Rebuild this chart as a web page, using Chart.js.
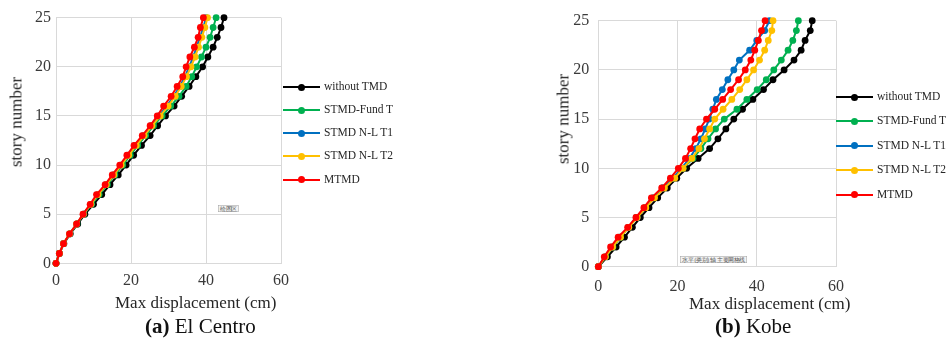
<!DOCTYPE html>
<html>
<head>
<meta charset="utf-8">
<script src="https://cdn.jsdelivr.net/npm/chart.js@4.4.0/dist/chart.umd.min.js"></script>
<style>
  body { margin:0; width:949px; height:341px; background:#fff; position:relative; overflow:hidden;
         font-family:"Liberation Serif","Times New Roman",serif; color:#262626; }
  canvas { position:absolute; top:0; }
  .txt { position:absolute; white-space:nowrap; line-height:1; }
  .xtitle { font-size:17px; }
  .caption { font-size:21px; color:#111; }
  .ytitle { position:absolute; white-space:nowrap; line-height:1; font-size:17px;
            transform:translate(-50%,-50%) rotate(-90deg); }
  .legend { position:absolute; font-size:11.5px; }
  .legend .item { position:absolute; left:0; height:0; white-space:nowrap; }
  .legend .ln { position:absolute; left:0; top:-1px; width:37px; height:2px; }
  .legend .dot { position:absolute; left:15px; top:-3.5px; width:7px; height:7px; border-radius:50%; }
  .legend .lb { position:absolute; left:41px; top:-7px; line-height:13px; }
  .tip { position:absolute; border:1px solid #a0a0a0; background:#f3f3f3; color:#555;
         font-size:11px; line-height:12px; padding:0 3px; white-space:nowrap;
         transform:scale(0.5); transform-origin:0 0; }
</style>
</head>
<body>
<canvas id="chartA" width="297" height="341" style="left:0px"></canvas>
<canvas id="chartB" width="314" height="341" style="left:540px"></canvas>

<div class="ytitle" style="left:16px; top:122px">story number</div>
<div class="txt xtitle" style="left:115px; top:294px">Max displacement (cm)</div>
<div class="txt caption" style="left:145px; top:316px"><b>(a)</b> El Centro</div>
<div class="tip" style="left:218px; top:205px">绘图区</div>
<div class="legend" id="legendA" style="left:283px; top:87px"></div>

<div class="ytitle" style="left:563px; top:119px">story number</div>
<div class="txt xtitle" style="left:689px; top:295px">Max displacement (cm)</div>
<div class="txt caption" style="left:715px; top:316px"><b>(b)</b> Kobe</div>
<div class="tip" style="left:680px; top:256px">水平 (类别) 轴 主要网格线</div>
<div class="legend" id="legendB" style="left:836px; top:97px"></div>

<script>
// story levels (y axis)
const stories = [0, 1, 2, 3, 4, 5, 6, 7, 8, 9, 10, 11, 12, 13, 14, 15, 16, 17, 18, 19, 20, 21, 22, 23, 24, 25];

const seriesNames = ['without TMD', 'STMD-Fund T', 'STMD N-L T1', 'STMD N-L T2', 'MTMD'];
const seriesColors = ['#000000', '#00b050', '#0070c0', '#ffc000', '#ff0000'];

// (a) El Centro - max displacement (cm) per story
const elCentroWithout = [0, 0.9, 2.1, 3.8, 5.8, 7.7, 10.0, 12.2, 14.4, 16.6, 18.7, 20.7, 22.8, 25.1, 27.1, 29.2, 31.5, 33.5, 35.5, 37.3, 39.1, 40.5, 41.9, 43.0, 44.0, 44.8];
const elCentroFund = [0, 0.9, 2.0, 3.7, 5.6, 7.4, 9.5, 11.5, 13.7, 15.7, 17.8, 19.8, 21.8, 23.9, 26.0, 28.3, 30.6, 32.8, 34.7, 36.2, 37.5, 38.8, 40.0, 41.1, 41.9, 42.7];
const elCentroT1 = [0, 0.9, 2.0, 3.6, 5.5, 7.3, 9.3, 11.1, 13.3, 15.3, 17.3, 19.3, 21.2, 23.3, 25.4, 27.5, 29.5, 31.4, 33.0, 34.4, 35.5, 36.6, 37.5, 38.4, 39.3, 40.0];
const elCentroT2 = [0, 0.9, 2.0, 3.6, 5.5, 7.3, 9.3, 11.2, 13.4, 15.4, 17.4, 19.4, 21.4, 23.5, 25.6, 27.8, 29.9, 31.8, 33.4, 34.8, 36.0, 37.1, 38.0, 38.9, 39.7, 40.4];
const elCentroMTMD = [0, 0.9, 2.0, 3.6, 5.5, 7.2, 9.1, 10.8, 13.1, 15.0, 17.0, 18.9, 20.8, 23.0, 25.1, 27.0, 28.7, 30.7, 32.3, 33.8, 34.7, 35.7, 36.9, 37.9, 38.5, 39.3];

// (b) Kobe - max displacement (cm) per story
const kobeWithout = [0, 2.3, 4.5, 6.6, 8.6, 10.6, 12.8, 15.0, 17.4, 19.8, 22.3, 25.2, 28.1, 30.2, 32.2, 34.2, 36.4, 39.0, 41.7, 44.1, 46.9, 49.4, 51.2, 52.2, 53.5, 54.0];
const kobeFund = [0, 1.8, 3.7, 5.6, 7.6, 9.6, 11.7, 13.8, 16.2, 18.8, 21.4, 23.9, 25.9, 27.7, 29.6, 31.8, 35.0, 37.5, 40.1, 42.4, 44.3, 46.2, 47.9, 49.1, 50.0, 50.5];
const kobeT1 = [0, 1.7, 3.5, 5.4, 7.6, 9.8, 11.9, 13.9, 16.3, 18.8, 21.0, 23.0, 24.6, 25.9, 27.0, 28.0, 28.9, 29.8, 31.3, 32.7, 34.2, 35.6, 38.2, 40.0, 42.0, 43.2];
const kobeT2 = [0, 1.8, 3.6, 5.6, 7.7, 9.8, 12.0, 14.2, 16.7, 19.3, 21.4, 23.6, 25.4, 26.8, 28.1, 29.4, 31.5, 33.7, 35.7, 37.5, 39.2, 40.7, 42.0, 42.9, 43.8, 44.1];
const kobeMTMD = [0, 1.5, 3.1, 5.0, 7.4, 9.5, 11.5, 13.4, 16.0, 18.2, 20.2, 22.0, 23.3, 24.4, 25.6, 27.3, 29.4, 31.4, 33.4, 35.4, 37.1, 38.5, 39.5, 40.4, 41.2, 42.1];

const xTickValues = [0, 20, 40, 60];
const yTickValues = [0, 5, 10, 15, 20, 25];

const gridColor = '#d9d9d9';
const tickColor = '#3a3a3a';

function buildDatasets(seriesList) {
    return seriesList.map(function(values, i) {
        return {
            label: seriesNames[i],
            data: values.map((v, k) => ({x: v, y: stories[k]})),
            borderColor: seriesColors[i],
            backgroundColor: seriesColors[i],
            pointBackgroundColor: seriesColors[i],
            pointBorderWidth: 0,
            pointRadius: 3.4,
            borderWidth: 2,
            tension: 0,
            clip: false,
            order: seriesNames.length - i   // last series drawn on top, like Excel
        };
    });
}

function makeChart(id, seriesList, pad, xPad, yPad) {
    const ctx = document.getElementById(id).getContext('2d');
    return new Chart(ctx, {
        type: 'line',
        data: { datasets: buildDatasets(seriesList) },
        options: {
            responsive: false,
            animation: false,
            devicePixelRatio: 1,
            layout: { padding: pad },
            plugins: { legend: { display: false }, tooltip: { enabled: false } },
            scales: {
                x: {
                    type: 'linear',
                    min: xTickValues[0],
                    max: xTickValues[xTickValues.length - 1],
                    afterBuildTicks: s => { s.ticks = xTickValues.map(v => ({value: v})); },
                    afterFit: s => { s.height = 30; },
                    grid: { color: gridColor, lineWidth: 1, drawTicks: false },
                    border: { color: gridColor },
                    ticks: { padding: xPad, color: tickColor, font: { family: 'Liberation Serif', size: 16 } }
                },
                y: {
                    type: 'linear',
                    min: yTickValues[0],
                    max: yTickValues[yTickValues.length - 1],
                    afterBuildTicks: s => { s.ticks = yTickValues.map(v => ({value: v})); },
                    afterFit: s => { s.width = 40; },
                    grid: { color: gridColor, lineWidth: 1, drawTicks: false },
                    border: { color: gridColor },
                    ticks: { padding: yPad, color: tickColor, font: { family: 'Liberation Serif', size: 16 } }
                }
            }
        }
    });
}

function buildLegend(id, rowGap) {
    const box = document.getElementById(id);
    seriesNames.forEach(function(name, i) {
        const item = document.createElement('div');
        item.className = 'item';
        item.style.top = (i * rowGap) + 'px';
        item.innerHTML = '<div class="ln" style="background:' + seriesColors[i] + '"></div>' +
            '<div class="dot" style="background:' + seriesColors[i] + '"></div>' +
            '<div class="lb">' + name + '</div>';
        box.appendChild(item);
    });
}

makeChart('chartA',
    [elCentroWithout, elCentroFund, elCentroT1, elCentroT2, elCentroMTMD],
    { left: 16, right: 14, top: 17.7, bottom: 47.7 }, 8, 5);

makeChart('chartB',
    [kobeWithout, kobeFund, kobeT1, kobeT2, kobeMTMD],
    { left: 18.3, right: 14, top: 20.7, bottom: 44.3 }, 10, 9);

buildLegend('legendA', 23.15);
buildLegend('legendB', 24.4);
</script>
</body>
</html>
